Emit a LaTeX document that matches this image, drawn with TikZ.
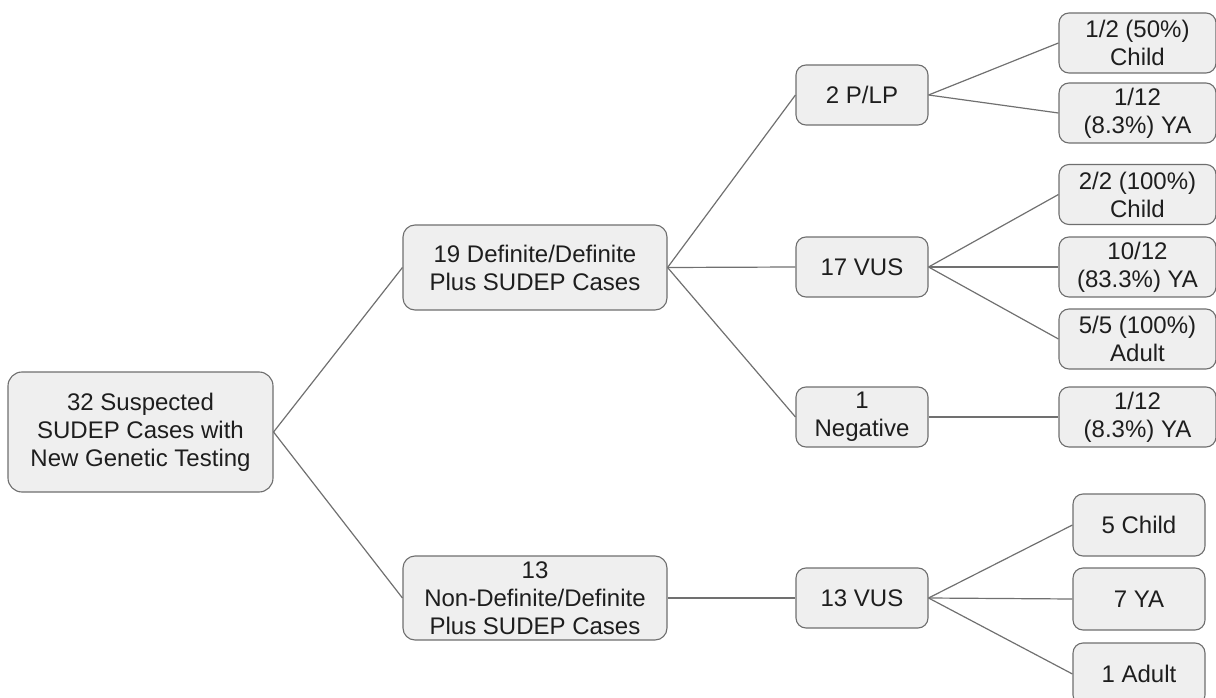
\documentclass[tikz,border=0pt]{standalone}
\usepackage{fontspec}
\setmainfont{Liberation Sans}
\definecolor{boxfill}{HTML}{EFEFEF}
\definecolor{boxdraw}{HTML}{6E6E6E}
\definecolor{linec}{HTML}{707070}
\definecolor{txt}{HTML}{1E1E1E}
\tikzset{
  box/.style={draw=boxdraw, fill=boxfill, line width=1.1pt, rounded corners=10pt,
    align=center, inner sep=0pt, text=txt,
    font=\fontsize{24}{28}\selectfont},
  conn/.style={draw=linec, line width=1.2pt}
}
\begin{document}
\begin{tikzpicture}[x=1pt,y=-1pt]
\useasboundingbox (0,0) rectangle (1216,698);
% root
\node[box, minimum width=265pt, minimum height=120pt, rounded corners=14pt] (root) at (140.5,432) {32 Suspected\\SUDEP Cases with\\New Genetic Testing};
% level 2
\node[box, minimum width=264pt, minimum height=85pt, rounded corners=12pt] (def) at (535,267.5) {19 Definite/Definite\\Plus SUDEP Cases};
\node[box, minimum width=264pt, minimum height=84pt, rounded corners=12pt] (ndef) at (535,598) {13\\Non-Definite/Definite\\Plus SUDEP Cases};
% level 3
\node[box, minimum width=132pt, minimum height=60pt] (plp) at (862,95) {2 P/LP};
\node[box, minimum width=132pt, minimum height=60pt] (vus17) at (862,267) {17 VUS};
\node[box, minimum width=132pt, minimum height=60pt] (neg) at (862,417) {1\\Negative};
\node[box, minimum width=132pt, minimum height=60pt] (vus13) at (862,598) {13 VUS};
% level 4
\node[box, minimum width=157pt, minimum height=60pt] (a1) at (1137.5,43) {1/2 (50\%)\\Child};
\node[box, minimum width=157pt, minimum height=60pt] (a2) at (1137.5,113) {1/12\\(8.3\%) YA};
\node[box, minimum width=157pt, minimum height=60pt] (b1) at (1137.5,194.5) {2/2 (100\%)\\Child};
\node[box, minimum width=157pt, minimum height=60pt] (b2) at (1137.5,267) {10/12\\(83.3\%) YA};
\node[box, minimum width=157pt, minimum height=60pt] (b3) at (1137.5,339) {5/5 (100\%)\\Adult};
\node[box, minimum width=157pt, minimum height=60pt] (c1) at (1137.5,417) {1/12\\(8.3\%) YA};
\node[box, minimum width=132pt, minimum height=62pt] (d1) at (1139,525) {5 Child};
\node[box, minimum width=132pt, minimum height=62pt] (d2) at (1139,599) {7 YA};
\node[box, minimum width=132pt, minimum height=62pt] (d3) at (1139,674) {1 Adult};
% connectors
\draw[conn] (root.east) -- (def.west);
\draw[conn] (root.east) -- (ndef.west);
\draw[conn] (def.east) -- (plp.west);
\draw[conn] (def.east) -- (vus17.west);
\draw[conn] (def.east) -- (neg.west);
\draw[conn] (ndef.east) -- (vus13.west);
\draw[conn] (plp.east) -- (a1.west);
\draw[conn] (plp.east) -- (a2.west);
\draw[conn] (vus17.east) -- (b1.west);
\draw[conn] (vus17.east) -- (b2.west);
\draw[conn] (vus17.east) -- (b3.west);
\draw[conn] (neg.east) -- (c1.west);
\draw[conn] (vus13.east) -- (d1.west);
\draw[conn] (vus13.east) -- (d2.west);
\draw[conn] (vus13.east) -- (d3.west);
\end{tikzpicture}
\end{document}
